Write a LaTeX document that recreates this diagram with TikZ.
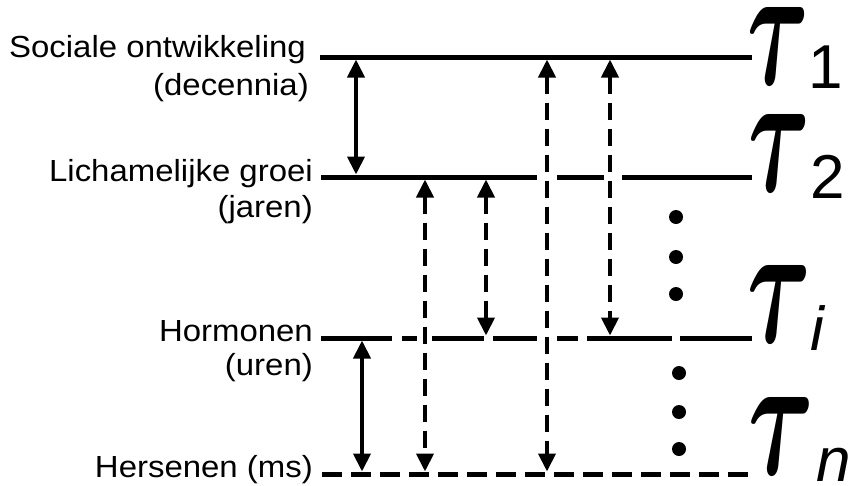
\documentclass[tikz,border=0pt]{standalone}
\usepackage{fontspec}
\usepackage{bm}
\usepackage{graphicx}
\usetikzlibrary{arrows.meta}
\newfontfamily\labfont[FakeStretch=1.08]{Liberation Sans}
\newfontfamily\subfont{Liberation Sans}
\tikzset{
  lvl/.style={line width=5pt},
  lvldash/.style={line width=5pt, dash pattern=on 20pt off 9pt},
  vsolid/.style={line width=4pt, {Triangle[width=17pt,length=18pt]}-{Triangle[width=17pt,length=18pt]}, shorten <=2.5pt, shorten >=2.5pt},
  vdash/.style={vsolid, dash pattern=on 17pt off 9pt},
  lab/.style={anchor=base east, inner sep=0pt, font=\labfont\fontsize{30.5}{35}\selectfont},
  taunode/.style={inner sep=0pt},
  sub/.style={anchor=base west, inner sep=0pt, font=\subfont\fontsize{62}{70}\selectfont},
  dot/.style={circle, fill=black, inner sep=0pt, minimum size=14pt}
}
\newcommand{\bigtau}[1]{\resizebox{#1}{77pt}{$\bm{\tau}$}}
\begin{document}
\begin{tikzpicture}[x=1pt,y=-1pt]
\useasboundingbox (0,0) rectangle (853,485);
% labels
\node[lab] (l1a) at (306,57) {Sociale ontwikkeling};
\node[lab] (l1b) at (309,95) {(decennia)};
\node[lab] (l2a) at (313,181) {Lichamelijke groei};
\node[lab] (l2b) at (313,217) {(jaren)};
\node[lab] (l3a) at (313,341) {Hormonen};
\node[lab] (l3b) at (313,375) {(uren)};
\node[lab] (l4a) at (313,477) {Hersenen (ms)};
% level coordinates
\coordinate (L1s) at (320,57);  \coordinate (L1e) at (752,57);
\coordinate (L4s) at (322,474); \coordinate (L4e) at (752,474);
% level 1
\draw[lvl] (L1s) -- (L1e);
% level 2 (gaps at dashed crossings)
\draw[lvl] (321,177) -- (537,177);
\draw[lvl] (557,177) -- (604,177);
\draw[lvl] (622,177) -- (752,177);
% level 3
\draw[lvl] (321,338) -- (392,338);
\draw[lvl] (402,338) -- (417,338);
\draw[lvl] (432,338) -- (484,338);
\draw[lvl] (493,338) -- (537,338);
\draw[lvl] (557,338) -- (578,338);
\draw[lvl] (587,338) -- (672,338);
\draw[lvl] (680,338) -- (752,338);
% level 4
\draw[lvldash] (L4s) -- (L4e);
% arrow end points
\coordinate (a1t) at (356,57);  \coordinate (a1b) at (356,177);
\coordinate (a2t) at (425,177); \coordinate (a2b) at (425,474);
\coordinate (a3t) at (486,177); \coordinate (a3b) at (486,338);
\coordinate (a4t) at (547,57);  \coordinate (a4b) at (547,474);
\coordinate (a5t) at (610,57);  \coordinate (a5b) at (610,338);
\coordinate (a6t) at (362,338); \coordinate (a6b) at (362,474);
\draw[vsolid] (a1t) -- (a1b);
\draw[vsolid] (a6t) -- (a6b);
\draw[vdash] (a2t) -- (a2b);
\draw[vdash] (a3t) -- (a3b);
\draw[vdash] (a4t) -- (a4b);
\draw[vdash] (a5t) -- (a5b);
% dots
\node[dot] (d1) at (676,217) {};
\node[dot] (d2) at (676,257) {};
\node[dot] (d3) at (676,294) {};
\node[dot] (d4) at (679,373) {};
\node[dot] (d5) at (679,412) {};
\node[dot] (d6) at (679,449) {};
% taus
\node[taunode] (t1) at (778,46) {\bigtau{62pt}};
\node[taunode] (t2) at (779,153) {\bigtau{62pt}};
\node[taunode] (ti) at (779,304) {\bigtau{64pt}};
\node[taunode] (tn) at (781,436) {\bigtau{66pt}};
\node[sub] (s1) at (808,88) {1};
\node[sub] (s2) at (810,198) {2};
\node[sub] (si) at (810,350) {\itshape i};
\node[sub] (sn) at (816,481) {\itshape n};
\end{tikzpicture}
\end{document}
